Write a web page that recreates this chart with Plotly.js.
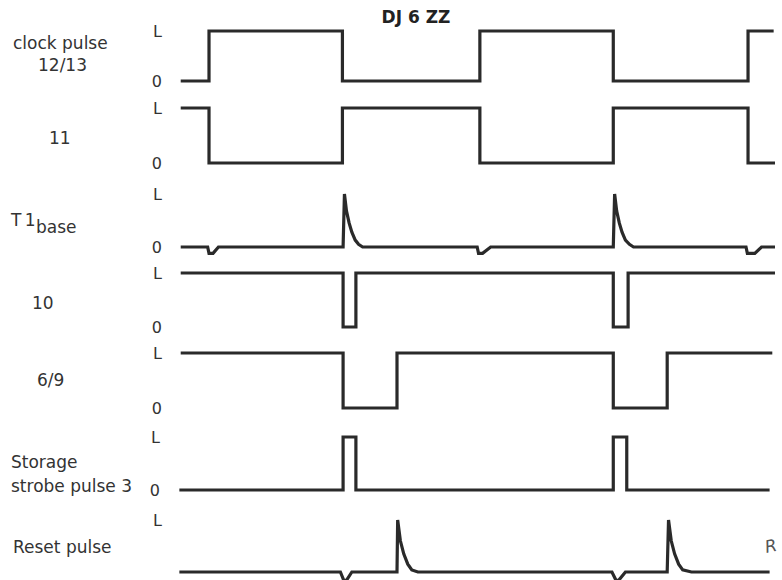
<!DOCTYPE html>
<html>
<head>
<meta charset="utf-8">
<script src="https://cdn.plot.ly/plotly-3.0.1.min.js"></script>
<style>html,body{margin:0;padding:0;background:#fff;}#chart{width:782px;height:580px;}</style>
</head>
<body>
<div id="chart"></div>
<script>
// ---------- DATA (time in half-clock-periods, levels 0 / L=1) ----------
const levelTicks = [0, 1];
const levelLabels = ['0', 'L'];

const clockT = [-0.21, 0, 0.99, 2.01, 3.0, 4.0, 4.19];
const clockV = [0, 1, 0, 1, 0, 1, 1];

const sig11T = [-0.21, 0, 0.99, 2.01, 3.0, 4.0, 4.2];
const sig11V = [1, 0, 1, 0, 1, 0, 0];

const t1baseT = [-0.21, -0.01, 0, 0.03, 0.07, 0.995, 1.005, 1.02, 1.04, 1.06, 1.085, 1.11, 1.14,
                 1.99, 2.0, 2.03, 2.09, 3.0, 3.01, 3.025, 3.045, 3.065, 3.09, 3.12, 3.15,
                 3.985, 3.995, 4.05, 4.1, 4.2];
const t1baseV = [0, 0, -0.12, -0.12, 0, 0, 1, 0.68, 0.45, 0.28, 0.13, 0.05, 0,
                 0, -0.12, -0.12, 0, 0, 1, 0.68, 0.45, 0.28, 0.13, 0.05, 0,
                 0, -0.12, -0.12, 0, 0];

const sig10T = [-0.21, 0.995, 1.09, 3.0, 3.11, 4.2];
const sig10V = [1, 0, 1, 0, 1, 1];

const sig69T = [-0.21, 0.995, 1.395, 3.0, 3.4, 4.18];
const sig69V = [1, 0, 1, 0, 1, 1];

const strobeT = [-0.22, 0.995, 1.09, 3.0, 3.1, 4.16];
const strobeV = [0, 1, 0, 1, 0, 0];

const resetT = [-0.22, 0.975, 1.0, 1.02, 1.06, 1.395, 1.40, 1.42, 1.445, 1.475, 1.505, 1.55,
                2.99, 3.02, 3.04, 3.09, 3.40, 3.41, 3.43, 3.455, 3.485, 3.515, 3.58, 4.16];
const resetV = [0, 0, -0.16, -0.16, 0, 0, 1, 0.6, 0.35, 0.15, 0.04, 0,
                0, -0.16, -0.16, 0, 0, 1, 0.6, 0.35, 0.15, 0.04, 0, 0];

const rowLabels = ['clock pulse', '12/13', '11', 'T\u20091', 'base', '10', '6/9', 'Storage', 'strobe pulse 3', 'Reset pulse'];
const titleText = 'DJ 6 ZZ';

// ---------- LAYOUT HELPERS (pixels) ----------
const W = 782, H = 580;
const xMin = -1.551, xMax = 4.252;
// [pixel y of level L, pixel y of level 0] for each row
const rowPx = [[31, 81], [108, 163], [194, 247], [273, 327], [353, 408], [437, 490], [520, 572]];
const pad = 12;
const labelPos = [
  {x: 60, y: 43, a: 'center'}, {x: 62, y: 65, a: 'center'}, {x: 60, y: 138, a: 'center'},
  {x: 8, y: 220, a: 'left'}, {x: 34, y: 227, a: 'left'}, {x: 43, y: 303, a: 'center'},
  {x: 50, y: 380, a: 'center'}, {x: 9, y: 462, a: 'left'}, {x: 9, y: 486, a: 'left'},
  {x: 11, y: 547, a: 'left'}
];

const series = [
  [clockT, clockV, 'hv'], [sig11T, sig11V, 'hv'], [t1baseT, t1baseV, 'linear'],
  [sig10T, sig10V, 'hv'], [sig69T, sig69V, 'hv'], [strobeT, strobeV, 'hv'], [resetT, resetV, 'linear']
];

const ink = '#2a2a2a';
const fontFam = 'DejaVu Sans, sans-serif';
const traces = [];
const layout = {
  width: W, height: H,
  margin: {l: 0, r: 0, t: 0, b: 0},
  paper_bgcolor: '#ffffff', plot_bgcolor: 'rgba(0,0,0,0)',
  showlegend: false,
  font: {family: fontFam, color: '#333'},
  title: {text: '<b>' + titleText + '</b>', x: 416 / W, xanchor: 'center', y: 1 - 17 / H, yanchor: 'middle',
          font: {family: fontFam, size: 17, color: '#222'}},
  xaxis: {range: [xMin, xMax], domain: [0, 1], visible: false, fixedrange: true},
  annotations: []
};

series.forEach((s, i) => {
  const ax = i === 0 ? 'y' : 'y' + (i + 1);
  const key = i === 0 ? 'yaxis' : 'yaxis' + (i + 1);
  const [p1, p0] = rowPx[i];
  const unit = p0 - p1;
  const botPx = Math.min(H, p0 + pad);
  const topPx = p1 - pad;
  const rlo = -(botPx - p0) / unit;
  const rhi = 1 + (p1 - topPx) / unit;
  layout[key] = {
    domain: [(H - botPx) / H, (H - topPx) / H],
    range: [rlo, rhi],
    anchor: 'free', position: (i === 5 ? 160 : 162) / W,
    tickvals: levelTicks, ticktext: levelLabels,
    ticks: '', showgrid: false, zeroline: false, showline: false, fixedrange: true,
    tickfont: {family: fontFam, size: 16, color: '#333'}
  };
  traces.push({
    x: s[0], y: s[1], xaxis: 'x', yaxis: ax, type: 'scatter', mode: 'lines',
    line: {color: ink, width: 3.2, shape: s[2]}, hoverinfo: 'skip', cliponaxis: false
  });
});

rowLabels.forEach((t, i) => {
  const p = labelPos[i];
  layout.annotations.push({
    text: t, xref: 'paper', yref: 'paper', x: p.x / W, y: (H - p.y) / H,
    xanchor: p.a, yanchor: 'middle', showarrow: false,
    font: {family: fontFam, size: 17, color: '#333'}
  });
});
// handwritten mark at the bottom right
layout.annotations.push({
  text: '<i>R</i>', xref: 'paper', yref: 'paper', x: 781 / W, y: (H - 546) / H,
  xanchor: 'right', yanchor: 'middle', showarrow: false, textangle: -12,
  font: {family: fontFam, size: 17, color: '#555'}
});

Plotly.newPlot('chart', traces, layout, {displayModeBar: false, staticPlot: true});
</script>
</body>
</html>
